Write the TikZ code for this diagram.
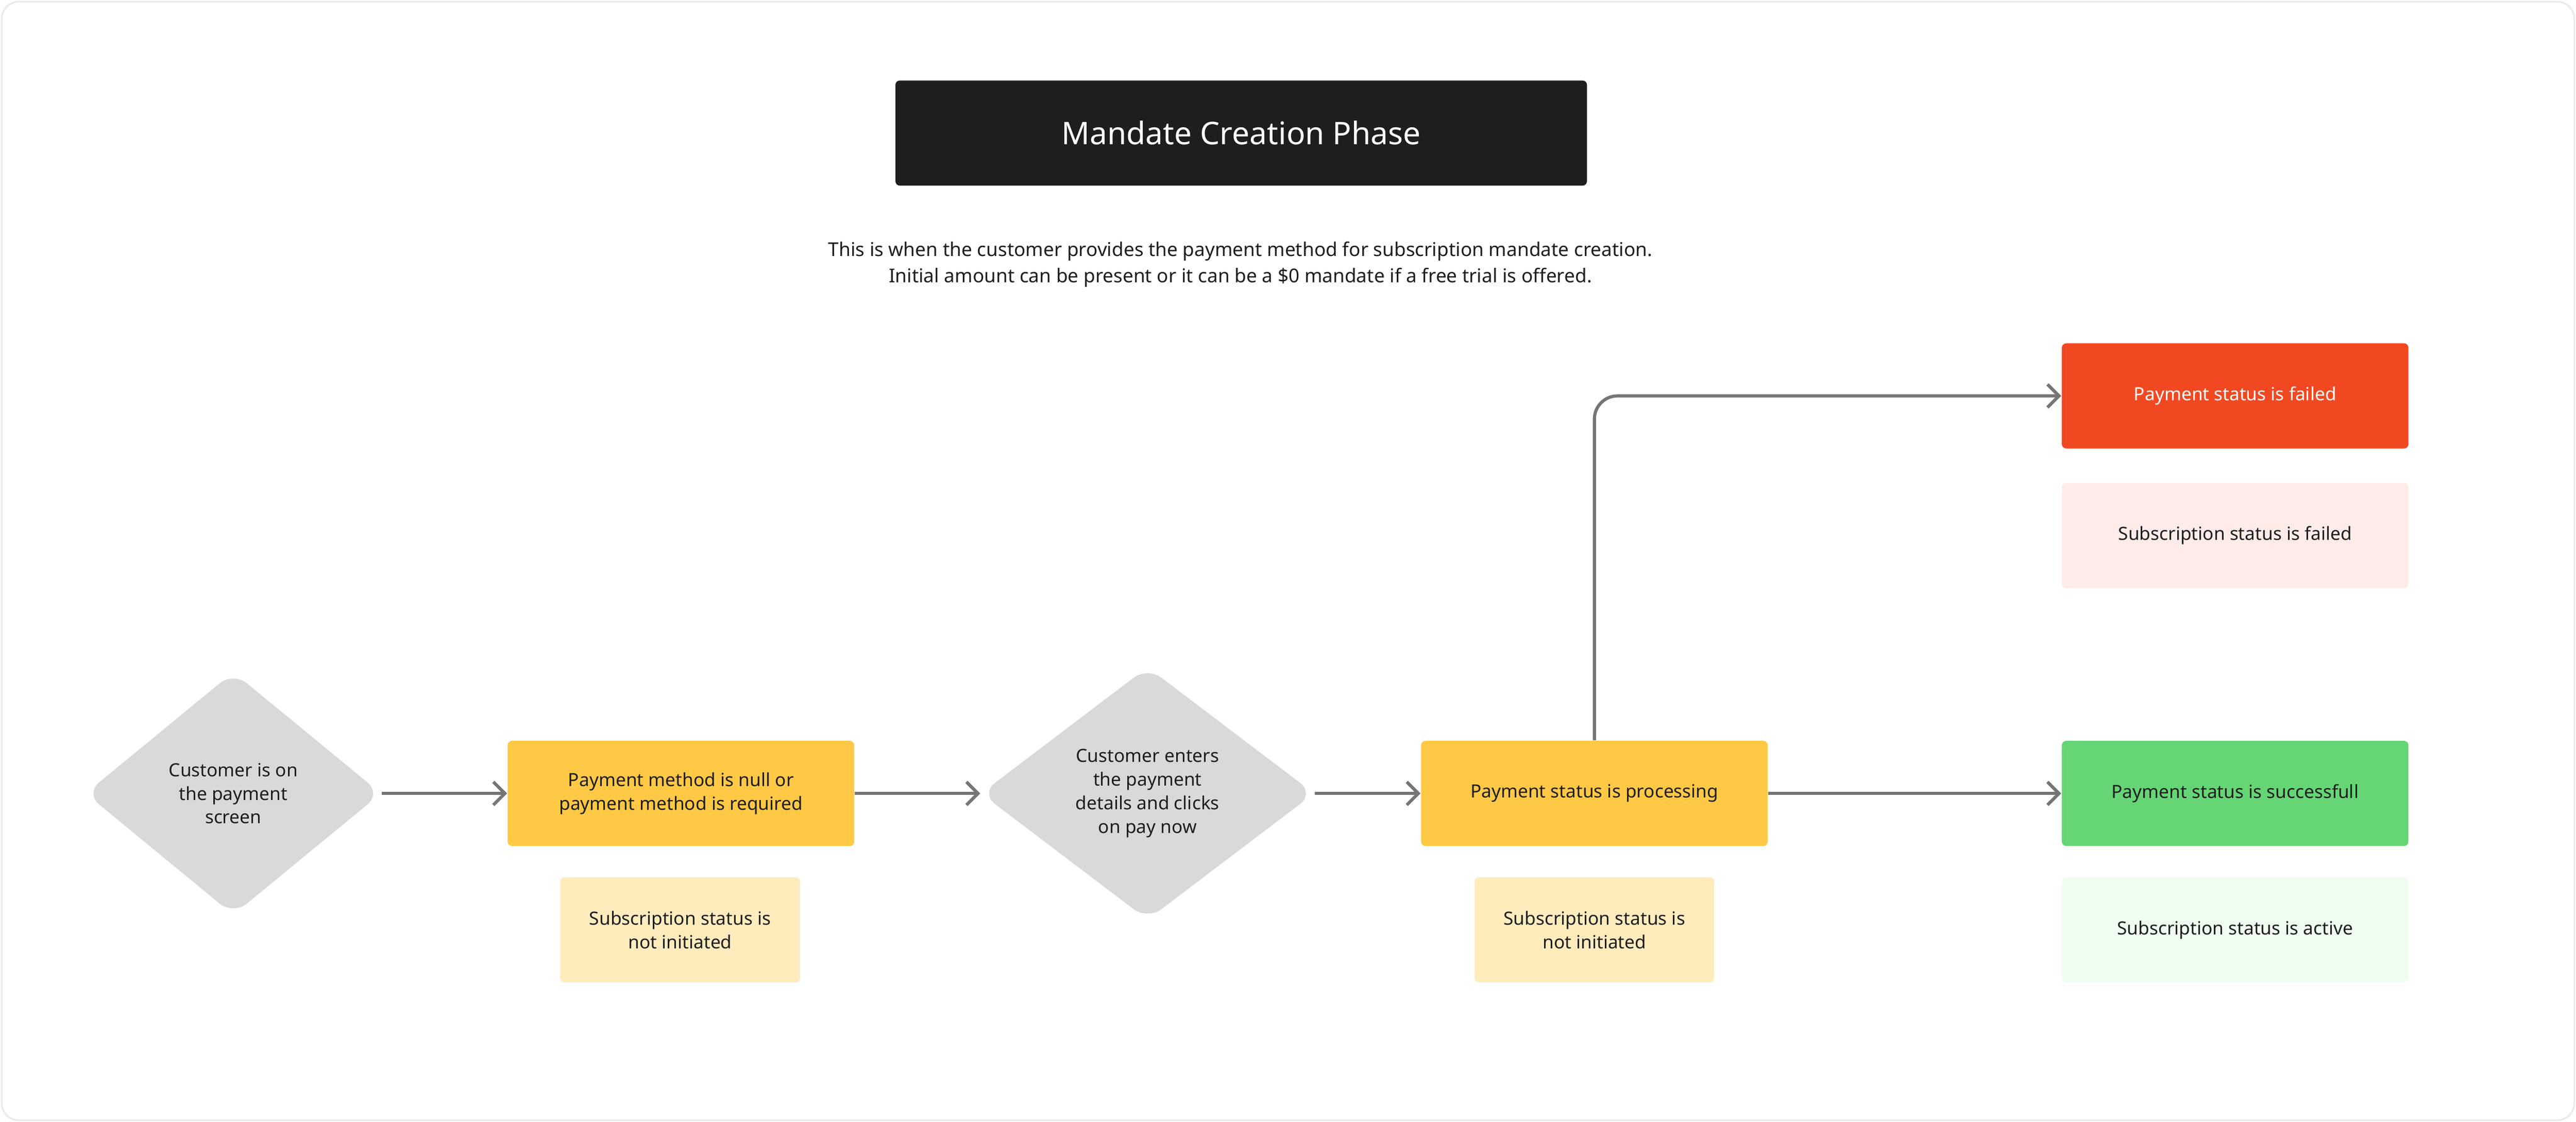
\documentclass[tikz,border=0pt]{standalone}
\usepackage{fontspec}
\setmainfont{Noto Sans}
\usetikzlibrary{shapes.geometric,arrows.meta}
\definecolor{dark}{HTML}{1E1E1E}
\definecolor{orng}{HTML}{FFC845}
\definecolor{lorng}{HTML}{FFECBD}
\definecolor{rd}{HTML}{F24822}
\definecolor{lrd}{HTML}{FFEBE8}
\definecolor{grn}{HTML}{66D575}
\definecolor{lgrn}{HTML}{EFFDF1}
\definecolor{dgray}{HTML}{D9D9D9}
\definecolor{arr}{HTML}{757575}
\begin{document}
\begin{tikzpicture}[x=0.02cm,y=-0.02cm,
  txt/.style={font=\fontsize{6.3}{8.2}\selectfont,align=center,text=dark},
  box/.style={txt,rectangle,rounded corners=1.5pt,minimum height=1.28cm,inner sep=0pt},
  main/.style={box,fill=orng,minimum width=4.22cm},
  sub/.style={box,fill=lorng,minimum width=2.92cm},
  dia/.style={txt,diamond,fill=dgray,rounded corners=6pt,inner sep=0pt},
  conn/.style={draw=arr,line width=1.1pt,-{Straight Barb[length=4pt,width=8pt,line width=1.1pt]}}]
\useasboundingbox (0,0) rectangle (1568,683);
\draw[draw=black!8,line width=0.6pt,rounded corners=6pt,fill=white] (1,1) rectangle (1567,682);
\node[box,fill=dark,minimum width=8.42cm,text=white,font=\fontsize{10.8}{13}\selectfont] (title) at (755.5,81) {Mandate Creation Phase};
\node[txt,font=\fontsize{6.6}{9.2}\selectfont] (desc) at (755,161) {This is when the customer provides the payment method for subscription mandate creation.\\Initial amount can be present or it can be a \$0 mandate if a free trial is offered.};
\node[dia,minimum width=3.6cm,minimum height=2.96cm] (d1) at (142,483) {Customer is on\\the payment\\screen};
\node[main] (b1) at (414.5,483) {Payment method is null or\\payment method is required};
\node[sub] (s1) at (414,566) {Subscription status is\\not initiated};
\node[dia,minimum width=4.06cm,minimum height=3.08cm] (d2) at (698.5,483) {Customer enters\\the payment\\details and clicks\\on pay now};
\node[main] (b2) at (970.5,483) {Payment status is processing};
\node[sub] (s2) at (970.5,566) {Subscription status is\\not initiated};
\node[box,fill=rd,text=white,minimum width=4.22cm] (f) at (1360.5,241) {Payment status is failed};
\node[box,fill=lrd,minimum width=4.22cm] (sf) at (1360.5,326) {Subscription status is failed};
\node[box,fill=grn,minimum width=4.22cm] (g) at (1360.5,483) {Payment status is successfull};
\node[box,fill=lgrn,minimum width=4.22cm] (sg) at (1360.5,566) {Subscription status is active};
\draw[conn] (d1.east) -- (b1.west);
\draw[conn] (b1.east) -- (d2.west);
\draw[conn] (d2.east) -- (b2.west);
\draw[conn] (b2.east) -- (g.west);
\draw[conn,rounded corners=8pt] (b2.north) -- (b2.north |- f.west) -- (f.west);
\end{tikzpicture}
\end{document}
